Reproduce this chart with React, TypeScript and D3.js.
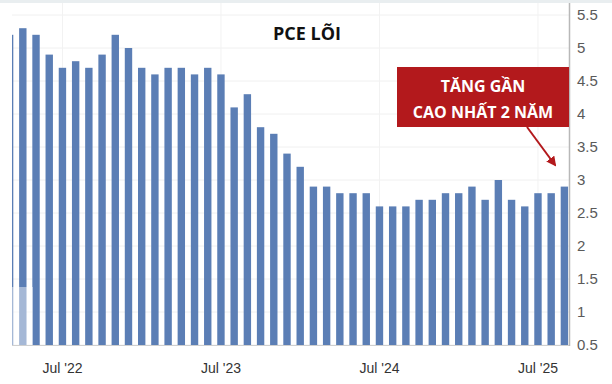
import React from "react";
import * as d3 from "d3";

const months: string[] = [
  "2022-03","2022-04","2022-05","2022-06","2022-07","2022-08","2022-09","2022-10","2022-11","2022-12",
  "2023-01","2023-02","2023-03","2023-04","2023-05","2023-06","2023-07","2023-08","2023-09","2023-10","2023-11","2023-12",
  "2024-01","2024-02","2024-03","2024-04","2024-05","2024-06","2024-07","2024-08","2024-09","2024-10","2024-11","2024-12",
  "2025-01","2025-02","2025-03","2025-04","2025-05","2025-06","2025-07","2025-08","2025-09",
];
const values: number[] = [
  5.2, 5.3, 5.2, 4.9, 4.7, 4.8, 4.7, 4.9, 5.2, 5.0,
  4.7, 4.6, 4.7, 4.7, 4.6, 4.7, 4.6, 4.1, 4.3, 3.8, 3.7, 3.4,
  3.2, 2.9, 2.9, 2.8, 2.8, 2.8, 2.6, 2.6, 2.6, 2.7, 2.7, 2.8,
  2.8, 2.9, 2.7, 3.0, 2.7, 2.6, 2.8, 2.8, 2.9,
];
const xTickMonths: string[] = ["2022-07", "2023-07", "2024-07", "2025-07"];
const xTickLabels: string[] = ["Jul '22", "Jul '23", "Jul '24", "Jul '25"];
const yTicks: number[] = [0.5, 1, 1.5, 2, 2.5, 3, 3.5, 4, 4.5, 5, 5.5];
const title = "PCE LÕI";
const noteLines: string[] = ["TĂNG GẦN", "CAO NHẤT 2 NĂM"];

export default function App() {
  const W = 612, H = 384;
  const plotL = 12, plotR = 569, plotT = 3, plotB = 345;
  const x = d3.scaleBand<string>().domain(months).range([3, 571]).paddingInner(0.44).paddingOuter(0.22);
  const y = d3.scaleLinear().domain([0.5, 5.5]).range([plotB, 15]);
  const bw = x.bandwidth();
  const red = "#b3191c";

  return (
    <svg width={W} height={H} viewBox={`0 0 ${W} ${H}`}
      style={{ position: "absolute", left: 0, top: 0, background: "#fff" }}>
      <defs>
        <clipPath id="plotclip">
          <rect x={plotL} y={plotT} width={plotR - plotL} height={plotB - plotT} />
        </clipPath>
        <marker id="ah" viewBox="0 0 10 10" refX="8" refY="5" markerWidth="5" markerHeight="5" orient="auto">
          <path d="M0,0 L10,5 L0,10 z" fill={red} />
        </marker>
      </defs>
      <rect x={0} y={0} width={W} height={3} fill="#e9eef0" />
      {yTicks.map((t) => (
        <line key={"g" + t} x1={plotL} x2={plotR} y1={y(t)} y2={y(t)} stroke="#f0f0f0" strokeWidth={1} />
      ))}
      {xTickMonths.map((m) => (
        <line key={"v" + m} x1={(x(m) ?? 0) + bw / 2} x2={(x(m) ?? 0) + bw / 2} y1={plotT} y2={plotB}
          stroke="#f2f2f2" strokeWidth={1} />
      ))}
      <g clipPath="url(#plotclip)">
        {months.map((m, i) => (
          <rect key={m} x={x(m)} y={y(values[i])} width={bw} height={plotB - y(values[i])} fill="#5b7eb5" />
        ))}
      </g>
      <rect x={12} y={287} width={21} height={58} fill="#ffffff" opacity={0.45} />
      <line x1={plotL} x2={plotR} y1={plotB + 0.5} y2={plotB + 0.5} stroke="#cfcfcf" strokeWidth={1} />
      <line x1={plotR + 0.5} x2={plotR + 0.5} y1={plotT} y2={plotB + 1} stroke="#b8b8b8" strokeWidth={1.5} />
      {yTicks.map((t) => (
        <text key={"yt" + t} x={577} y={y(t)} dy="0.36em" fontFamily="Liberation Sans, Arial, sans-serif"
          fontSize={15} fill="#5a5a5a">{String(t)}</text>
      ))}
      {xTickMonths.map((m, i) => (
        <text key={"xt" + m} x={(x(m) ?? 0) + bw / 2} y={373} textAnchor="middle"
          fontFamily="Liberation Sans, Arial, sans-serif" fontSize={14} fill="#333">{xTickLabels[i]}</text>
      ))}
      <text x={307} y={40} textAnchor="middle" fontFamily="Open Sans, sans-serif" fontWeight={700}
        fontSize={18} fill="#111">{title}</text>
      <rect x={397} y={67} width={plotR - 397} height={60} fill={red} />
      {noteLines.map((s, i) => (
        <text key={"n" + i} x={483} y={92 + i * 25.5} textAnchor="middle" fontFamily="Open Sans, sans-serif"
          fontWeight={700} fontSize={16} fill="#fff">{s}</text>
      ))}
      <line x1={527} y1={127} x2={555} y2={165} stroke={red} strokeWidth={2} markerEnd="url(#ah)" />
    </svg>
  );
}
